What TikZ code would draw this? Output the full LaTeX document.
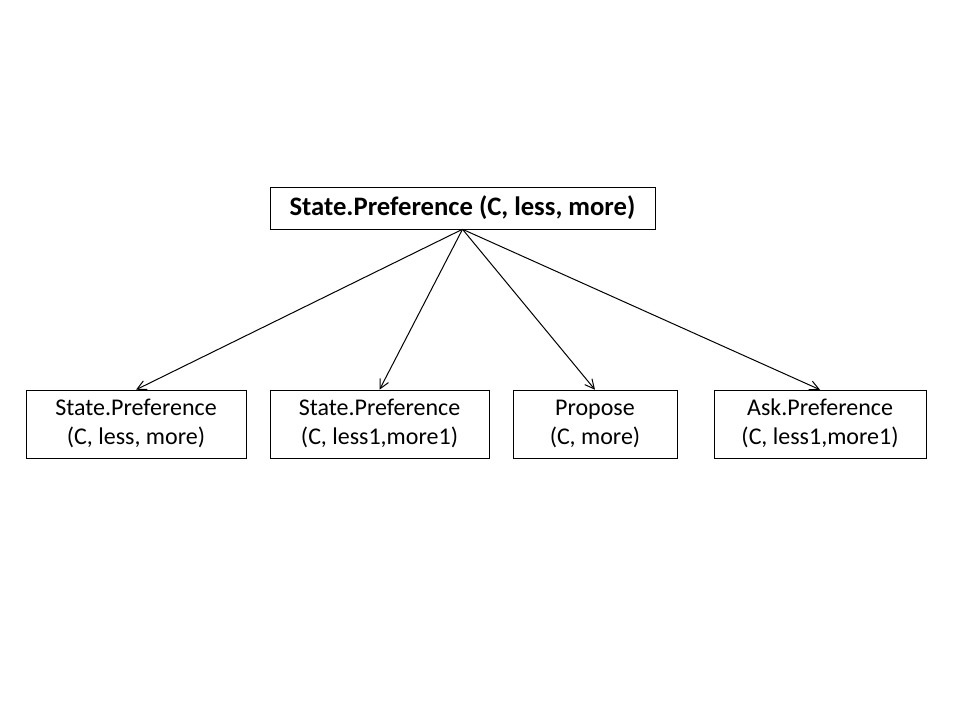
\documentclass[tikz,border=0pt]{standalone}
\usepackage{fontspec}
\setmainfont{Carlito}
\usepackage{tikz}
\usetikzlibrary{arrows.meta}

\begin{document}
\begin{tikzpicture}[x=0.75pt,y=-0.75pt,-{Straight Barb[length=7pt,width=7pt]},line width=0.75pt]
  \tikzstyle{every node}=[draw,thin,align=center,inner sep=0pt,font=\fontsize{18}{21.75}\selectfont]
  \tikzstyle{child}=[minimum height=68*0.75pt]
  \useasboundingbox (0,0) rectangle (960,720);

  \node[minimum width=385*0.75pt, minimum height=42*0.75pt, font=\fontsize{20}{24}\selectfont\bfseries] (root) at (462.5,208) {State.Preference (C, less, more)};

  % two lines each, struts keep the baselines level
  \node[child, minimum width=220*0.75pt] (sp)  at (136,424)   {\strut State.Preference\\\strut(C, less, more)};
  \node[child, minimum width=219*0.75pt] (sp1) at (379.5,424) {\strut State.Preference\\\strut(C, less1,more1)};
  \node[child, minimum width=164*0.75pt] (pr)  at (595,424)   {\strut Propose\\\strut(C, more)};
  \node[child, minimum width=212*0.75pt] (ap)  at (820,424)   {\strut Ask.Preference\\\strut(C, less1,more1)};

  \draw (root.south) -- (sp.north);
  \draw (root.south) -- (sp1.north);
  \draw (root.south) -- (pr.north);
  \draw (root.south) -- (ap.north);
\end{tikzpicture}
\end{document}
